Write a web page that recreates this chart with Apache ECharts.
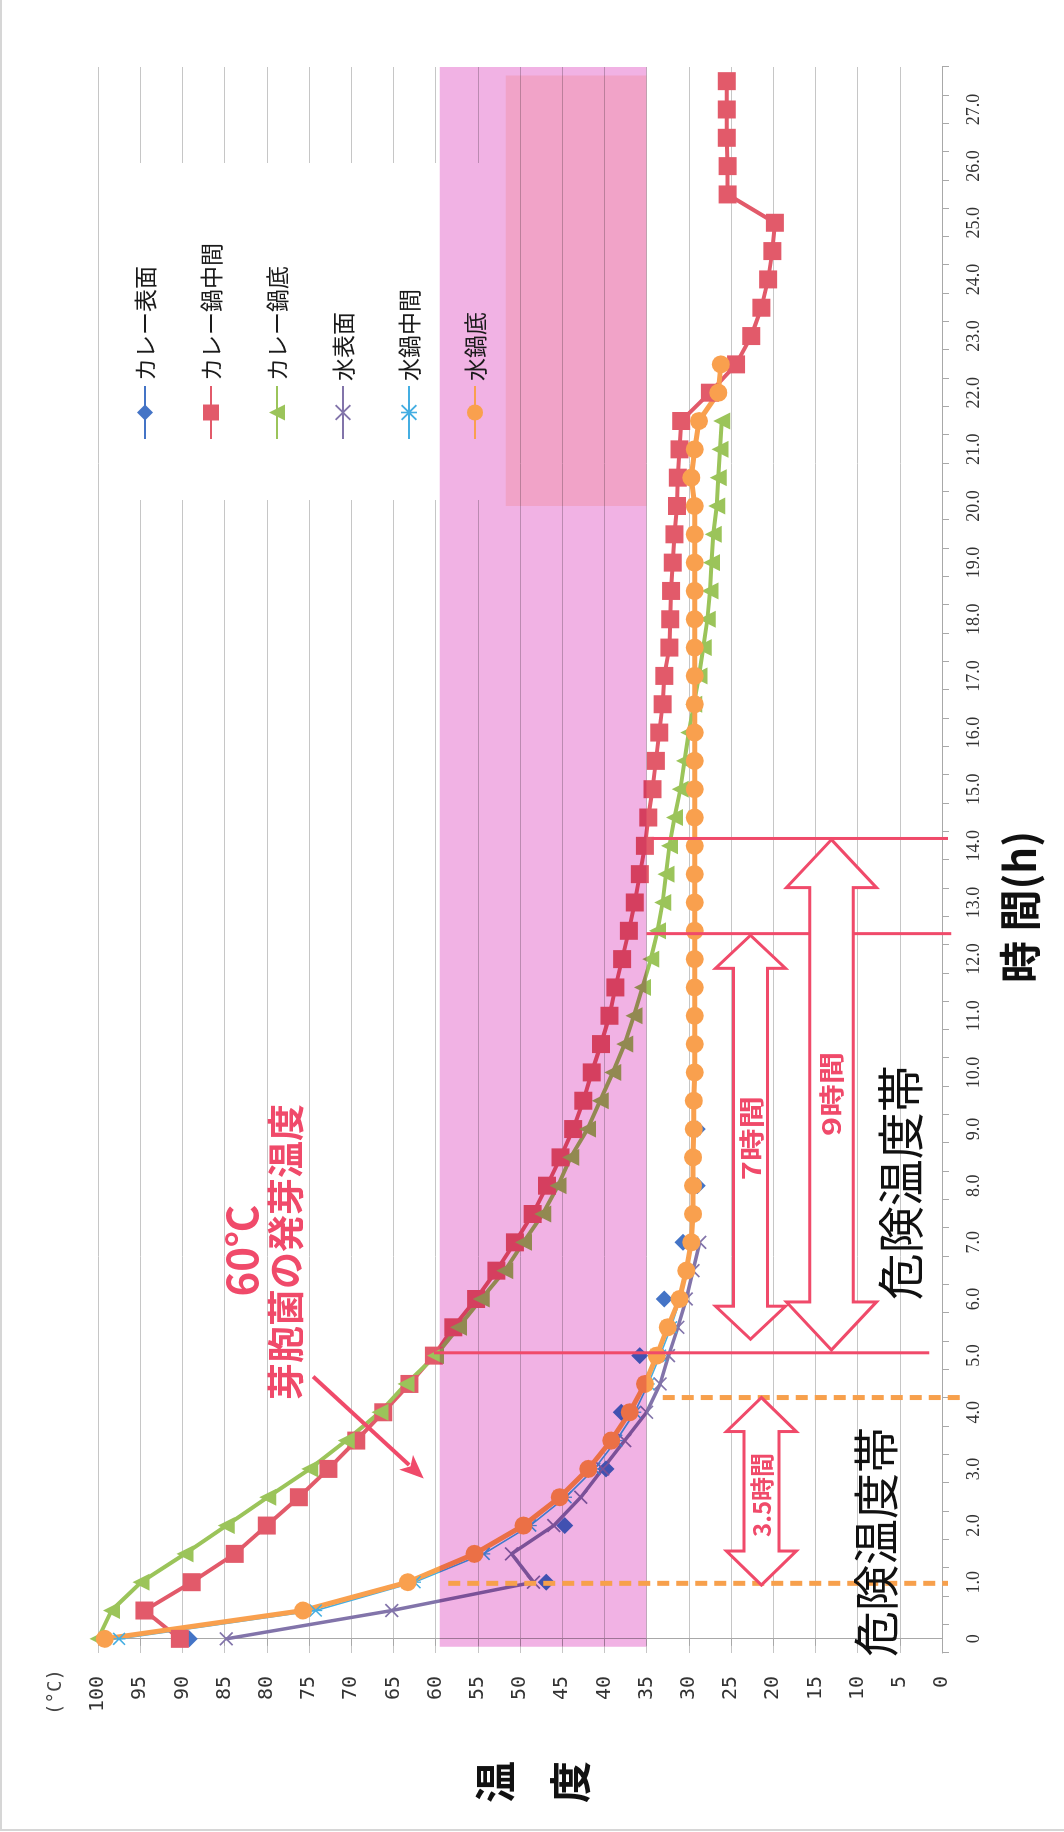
<!DOCTYPE html>
<html><head><meta charset="utf-8">
<script src="https://cdn.jsdelivr.net/npm/echarts@6/dist/echarts.min.js"></script>
<style>
html,body{margin:0;padding:0;background:#fff;overflow:hidden;width:1064px;height:1832px;}
#wrap{position:absolute;left:0;top:0;width:1832px;height:1064px;transform-origin:0 0;transform:translate(0,1832px) rotate(-90deg);}
#edge{position:absolute;left:0;top:0;width:1062px;height:1829px;border-left:2px solid #d6d6d6;border-bottom:2px solid #d6d6d6;pointer-events:none;}
</style></head><body><div id="wrap"></div><div id="edge"></div>
<script>
// ---- data (time in hours every 0.5h, temperature in °C) ----
const timeLabels = ['0','0.5','1.0','1.5','2.0','2.5','3.0','3.5','4.0','4.5','5.0','5.5','6.0','6.5','7.0','7.5','8.0','8.5','9.0','9.5','10.0','10.5','11.0','11.5','12.0','12.5','13.0','13.5','14.0','14.5','15.0','15.5','16.0','16.5','17.0','17.5','18.0','18.5','19.0','19.5','20.0','20.5','21.0','21.5','22.0','22.5','23.0','23.5','24.0','24.5','25.0','25.5','26.0','26.5','27.0','27.5'];
const tempTicks = [0, 100, 5];
const seriesNames = ['カレー表面','カレー鍋中間','カレー鍋底','水表面','水鍋中間','水鍋底'];
const curryTop = [89.2,null,46.9,null,44.7,null,39.8,null,38.0,null,35.8,null,32.9,null,30.7,null,29.0,null,29.0];
const curryMid = [90.3,94.5,88.9,83.8,80.0,76.2,72.7,69.4,66.2,63.1,60.2,57.9,55.2,52.8,50.6,48.5,46.8,45.2,43.7,42.5,41.5,40.4,39.4,38.7,37.9,37.1,36.4,35.8,35.2,34.8,34.3,33.9,33.5,33.1,32.9,32.3,32.2,32.1,31.9,31.7,31.4,31.3,31.1,30.9,27.5,24.4,22.6,21.4,20.6,20.1,19.8,25.4,25.4,25.5,25.5,25.5];
const curryBottom = [100,98.4,94.9,89.7,84.8,79.9,74.9,70.6,66.6,63.5,60.0,57.3,54.6,51.8,49.6,47.3,45.5,44.0,42.0,40.5,39.0,37.6,36.5,35.5,34.5,33.7,33.1,32.7,32.3,31.7,31.0,30.5,30.0,29.4,28.8,28.3,27.8,27.5,27.3,27.1,26.7,26.5,26.3,26.1];
const waterTop = [84.8,65.2,48.4,51.0,46.0,42.8,40.2,37.6,35.0,33.4,32.4,31.3,30.3,29.5,28.7];
const waterMid = [97.5,74.2,62.5,54.3,48.8,44.6,41.2,38.6,36.4,34.8,33.4,32.1,31.0,30.2,29.6];
const waterBottom = [99.2,75.7,63.3,55.4,49.6,45.3,41.9,39.2,37.0,35.2,33.8,32.5,31.1,30.3,29.7,29.5,29.5,29.5,29.4,29.4,29.3,29.3,29.3,29.3,29.3,29.3,29.3,29.3,29.3,29.3,29.3,29.3,29.3,29.3,29.3,29.3,29.3,29.3,29.3,29.3,29.3,29.7,29.3,28.8,26.5,26.2];
// highlighted zone (time range h, temperature range °C)
const bandTime = [-0.14, 27.75];
const bandTemp = [59.5, 35];
const patchTime = [20.0, 27.6];
const patchTemp = [51.7, 35];
// annotation lines: [time, tempFrom, tempTo]
const redLines = [[5.05, 60.2, 1.5], [12.45, 35, -1.1], [14.13, 34.4, -0.7]];
const dashedLines = [[0.98, 58.5, -0.7], [4.26, 33.1, -2.7]];
// span arrows: [timeFrom, timeTo, temp, label]
const spanArrows = [[0.95, 4.26, 21.4, '3.5時間'], [5.29, 12.42, 22.7, '7時間'], [5.10, 14.11, 13.1, '9時間']];
// pointer arrow: [timeStart, tempStart, timeEnd, tempEnd]
const pointerArrow = [4.63, 74.5, 2.83, 61.4];
// texts: [time, temp, text]
const noteTexts = [[6.85, 82.9, '60℃'], [6.83, 77.7, '芽胞菌の発芽温度']];
const zoneTexts = [[8.05, 5.0, '危険温度帯'], [1.71, 7.9, '危険温度帯']];

const RED = '#f04a6a', ORANGE = '#f7a04c';
const CJK = '"Noto Sans CJK JP", sans-serif';
const X_PATH = 'path://M0,1.7L1.7,0L10,8.3L18.3,0L20,1.7L11.7,10L20,18.3L18.3,20L10,11.7L1.7,20L0,18.3L8.3,10Z';
const STAR_PATH = 'path://M0,1.7L1.7,0L10,8.3L18.3,0L20,1.7L11.7,10L20,18.3L18.3,20L10,11.7L1.7,20L0,18.3L8.3,10ZM9,0L11,0L11,20L9,20Z';

function lineSeries(name, data, color, symbol, size, width) {
  return {
    name: name, type: 'line', data: data, xAxisIndex: 0, yAxisIndex: 0,
    symbol: symbol, symbolSize: size, showSymbol: true, connectNulls: false, clip: false,
    lineStyle: {color: color, width: width}, itemStyle: {color: color, borderWidth: 0},
    z: 2, animation: false
  };
}

function rectOf(api, t, y) {
  const p0 = api.coord([t[0], y[0]]), p1 = api.coord([t[1], y[1]]);
  return {x: Math.min(p0[0], p1[0]), y: Math.min(p0[1], p1[1]), width: Math.abs(p1[0] - p0[0]), height: Math.abs(p1[1] - p0[1])};
}

function renderBand(params, api) {
  return {type: 'group', children: [
    {type: 'rect', shape: rectOf(api, bandTime, bandTemp), style: {fill: '#f1b2e4'}},
    {type: 'rect', shape: rectOf(api, patchTime, patchTemp), style: {fill: '#ffeae0'}}
  ]};
}

function renderAnno(params, api) {
  const C = (t, y) => api.coord([t, y]);
  const ch = [];
  dashedLines.forEach(function (d) {
    const p = C(d[0], d[1]), q = C(d[0], d[2]);
    ch.push({type: 'line', shape: {x1: p[0], y1: p[1], x2: q[0], y2: q[1]}, style: {stroke: ORANGE, lineWidth: 5, lineDash: [12, 7]}});
  });
  redLines.forEach(function (d) {
    const p = C(d[0], d[1]), q = C(d[0], d[2]);
    ch.push({type: 'line', shape: {x1: p[0], y1: p[1], x2: q[0], y2: q[1]}, style: {stroke: RED, lineWidth: 3}});
  });
  const dims = [[17.5, 35, 34, 24, 1], [17, 35, 33, 25, 1.3], [21.7, 45, 48, 25, 1.3]];
  spanArrows.forEach(function (a, i) {
    const p = C(a[0], a[2]), q = C(a[1], a[2]);
    const x1 = p[0], x2 = q[0], cy = p[1];
    const sw = dims[i][0], hw = dims[i][1], hl = dims[i][2];
    const pts = [[x1, cy], [x1 + hl, cy - hw], [x1 + hl, cy - sw], [x2 - hl, cy - sw], [x2 - hl, cy - hw], [x2, cy],
      [x2 - hl, cy + hw], [x2 - hl, cy + sw], [x1 + hl, cy + sw], [x1 + hl, cy + hw]];
    ch.push({type: 'polygon', shape: {points: pts}, style: {fill: '#fff', stroke: RED, lineWidth: 3, lineJoin: 'miter'}});
  });
  const labelPos = [[2.54, 21.4], [8.84, 22.6], [9.62, 13.1]];
  spanArrows.forEach(function (a, i) {
    const p = C(labelPos[i][0], labelPos[i][1]);
    ch.push({type: 'text', x: p[0], y: p[1], scaleX: dims[i][4], scaleY: 1,
      style: {text: a[3], fill: RED, fontSize: dims[i][3], fontWeight: 'bold', fontFamily: CJK, align: 'center', verticalAlign: 'middle'}});
  });
  const s = C(pointerArrow[0], pointerArrow[1]), e = C(pointerArrow[2], pointerArrow[3]);
  const dx = e[0] - s[0], dy = e[1] - s[1], L = Math.sqrt(dx * dx + dy * dy), ux = dx / L, uy = dy / L;
  const hl = 24, hw = 10;
  const bx = e[0] - ux * hl, by = e[1] - uy * hl;
  ch.push({type: 'line', shape: {x1: s[0], y1: s[1], x2: bx + ux * 4, y2: by + uy * 4}, style: {stroke: RED, lineWidth: 4}});
  ch.push({type: 'polygon', shape: {points: [[e[0], e[1]], [bx - uy * hw, by + ux * hw], [bx + ux * 6, by + uy * 6], [bx + uy * hw, by - ux * hw]]}, style: {fill: RED}});
  noteTexts.forEach(function (n, i) {
    const p = C(n[0], n[1]);
    ch.push({type: 'text', x: p[0], y: p[1], style: {text: n[2], fill: RED, fontSize: i === 0 ? 42 : 37, fontWeight: 'bold', fontFamily: CJK, align: 'center', verticalAlign: 'middle'}});
  });
  zoneTexts.forEach(function (n, i) {
    const p = C(n[0], n[1]);
    ch.push({type: 'text', x: p[0], y: p[1], style: {text: n[2], fill: '#111', fontSize: i === 0 ? 47 : 46, fontFamily: CJK, align: 'center', verticalAlign: 'middle'}});
  });
  return {type: 'group', children: ch};
}

const chart = echarts.init(document.getElementById('wrap'), null, {renderer: 'canvas', width: 1832, height: 1064});
chart.setOption({
  animation: false,
  backgroundColor: '#ffffff',
  grid: {left: 179, right: 67, top: 98, bottom: 122, containLabel: false},
  legend: {
    data: seriesNames, orient: 'vertical', left: 1392, top: 133, padding: 0,
    itemWidth: 53, itemHeight: 20, itemGap: 42,
    textStyle: {fontSize: 23, lineHeight: 24, fontFamily: CJK, color: '#1a1a1a'}, z: 4
  },
  graphic: [
    {type: 'rect', left: 1332, top: 100, shape: {width: 337, height: 400}, style: {fill: '#ffffff'}, z: 1, silent: true},
    {type: 'text', x: 50, y: 495, style: {text: '温', fontSize: 42, fontWeight: 'bold', fontFamily: CJK, fill: '#111', align: 'center', verticalAlign: 'middle'}, z: 5},
    {type: 'text', x: 50, y: 570, style: {text: '度', fontSize: 42, fontWeight: 'bold', fontFamily: CJK, fill: '#111', align: 'center', verticalAlign: 'middle'}, z: 5},
    {type: 'text', x: 925, y: 1020, style: {text: '時 間(h)', fontSize: 42, fontWeight: 'bold', fontFamily: CJK, fill: '#111', align: 'center', verticalAlign: 'middle'}, z: 5},
    {type: 'text', x: 140, y: 56, style: {text: '(°C)', fontSize: 19, fontFamily: '"DejaVu Sans Mono", monospace', fill: '#444', align: 'center', verticalAlign: 'middle'}, z: 5}
  ],
  xAxis: [
    {
      type: 'category', data: timeLabels, boundaryGap: true, position: 'bottom',
      axisLine: {show: true, onZero: false, lineStyle: {color: '#a8a8a8', width: 1}},
      axisTick: {show: true, interval: 0, length: 7, lineStyle: {color: '#a8a8a8'}},
      axisLabel: {interval: 1, margin: 23, fontSize: 18, fontFamily: '"Liberation Serif", serif', color: '#333'},
      splitLine: {show: false}
    },
    {type: 'value', min: -0.25, max: 27.75, show: false}
  ],
  yAxis: {
    type: 'value', min: tempTicks[0], max: tempTicks[1], interval: tempTicks[2],
    axisLine: {show: true, lineStyle: {color: '#a8a8a8', width: 1}},
    axisTick: {show: true, length: 7, lineStyle: {color: '#a8a8a8'}},
    axisLabel: {margin: 23, fontSize: 20, fontFamily: '"DejaVu Sans Mono", monospace', color: '#333'},
    splitLine: {show: true, lineStyle: {color: '#c6c6c6', width: 1}}
  },
  series: [
    lineSeries(seriesNames[0], curryTop, '#4474c6', 'diamond', 17, 3),
    lineSeries(seriesNames[1], curryMid, '#e25a6a', 'rect', 18, 4),
    lineSeries(seriesNames[2], curryBottom, '#9bc45a', 'triangle', 17, 4),
    lineSeries(seriesNames[3], waterTop, '#8274aa', X_PATH, 14, 3.5),
    lineSeries(seriesNames[4], waterMid, '#44aee2', STAR_PATH, 13, 1.6),
    lineSeries(seriesNames[5], waterBottom, '#f9a04e', 'circle', 18, 5),
    {type: 'custom', name: 'band', xAxisIndex: 1, yAxisIndex: 0, data: [[0, 0]], renderItem: renderBand,
      blendMode: 'multiply', z: 3, silent: true, clip: false, animation: false},
    {type: 'custom', name: 'annotations', xAxisIndex: 1, yAxisIndex: 0, data: [[0, 0]], renderItem: renderAnno,
      z: 6, silent: true, clip: false, animation: false}
  ]
});
</script>
</body></html>
